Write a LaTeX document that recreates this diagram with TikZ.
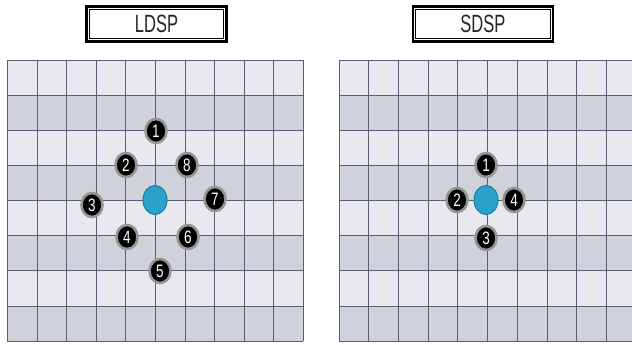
\documentclass[tikz,border=0pt]{standalone}
\usepackage{fontspec}
\setmainfont{Liberation Sans}
\usetikzlibrary{shapes.geometric}
\definecolor{rowlight}{HTML}{E8E8EE}
\definecolor{rowdark}{HTML}{D0D2DB}
\definecolor{gridline}{HTML}{5C5C72}
\definecolor{bluefill}{HTML}{2BA2C9}
\definecolor{blueedge}{HTML}{1A7EA2}
\definecolor{halo}{HTML}{959595}
\tikzset{
  titlebox/.style={draw=black, line width=2.6pt, fill=white, minimum width=140pt, minimum height=35pt, inner sep=0pt,
    font=\fontsize{25}{25}\selectfont, text=black!85},
  searchpt/.style={ellipse, fill=black, draw=halo, line width=2.6pt, minimum width=21pt, minimum height=24pt, inner sep=0pt,
    text=white, font=\fontsize{18}{18}\selectfont},
  centerpt/.style={ellipse, fill=bluefill, draw=blueedge, line width=1pt, minimum width=24pt, minimum height=29pt, inner sep=0pt},
  gridln/.style={draw=gridline, line width=0.7pt}
}
\newcommand{\mygrid}[2]{% #1 = left x, #2 = column width
  \foreach \r in {0,...,7}{
    \pgfmathsetmacro{\ya}{60+\r*35.125}
    \pgfmathsetmacro{\yb}{60+(\r+1)*35.125}
    \pgfmathtruncatemacro{\odd}{mod(\r,2)}
    \ifnum\odd=0
      \fill[rowlight] (#1,\ya) rectangle ({#1+10*#2},\yb);
    \else
      \fill[rowdark] (#1,\ya) rectangle ({#1+10*#2},\yb);
    \fi
  }
  \foreach \r in {0,...,8}{
    \draw[gridln] (#1,{60+\r*35.125}) -- ({#1+10*#2},{60+\r*35.125});
  }
  \foreach \c in {0,...,10}{
    \draw[gridln] ({#1+\c*#2},60) -- ({#1+\c*#2},341);
  }
}
\begin{document}
\begin{tikzpicture}[x=1pt,y=-1pt]
\useasboundingbox (0,0) rectangle (632,345);
\fill[white] (0,0) rectangle (632,345);
\begin{scope}
\clip (0,0) rectangle (632,345);
\mygrid{7.3}{29.6}
\mygrid{339}{29.7}
\end{scope}

% titles
\node[titlebox] (tl) at (156.5,24) {\scalebox{0.66}[1]{LDSP}};
\draw[line width=0.7pt] ([shift={(4.2,4.2)}]tl.north west) rectangle ([shift={(-4.2,-4.2)}]tl.south east);
\node[titlebox] (tr) at (482.8,24) {\scalebox{0.66}[1]{SDSP}};
\draw[line width=0.7pt] ([shift={(4.2,4.2)}]tr.north west) rectangle ([shift={(-4.2,-4.2)}]tr.south east);

% LDSP points
\node[centerpt] (lc) at (155,200) {};
\node[searchpt] (l1) at (156,131) {\scalebox{0.75}[1]{1}};
\node[searchpt] (l2) at (126,165) {\scalebox{0.75}[1]{2}};
\node[searchpt] (l8) at (187,165) {\scalebox{0.75}[1]{8}};
\node[searchpt] (l3) at (92,205) {\scalebox{0.75}[1]{3}};
\node[searchpt] (l7) at (215,199) {\scalebox{0.75}[1]{7}};
\node[searchpt] (l4) at (127,237) {\scalebox{0.75}[1]{4}};
\node[searchpt] (l6) at (188,237) {\scalebox{0.75}[1]{6}};
\node[searchpt] (l5) at (160,271) {\scalebox{0.75}[1]{5}};

% SDSP points
\node[centerpt] (rc) at (486,200) {};
\node[searchpt] (r1) at (486,165) {\scalebox{0.75}[1]{1}};
\node[searchpt] (r2) at (457,200) {\scalebox{0.75}[1]{2}};
\node[searchpt] (r4) at (514,200) {\scalebox{0.75}[1]{4}};
\node[searchpt] (r3) at (486,238) {\scalebox{0.75}[1]{3}};
\end{tikzpicture}
\end{document}
